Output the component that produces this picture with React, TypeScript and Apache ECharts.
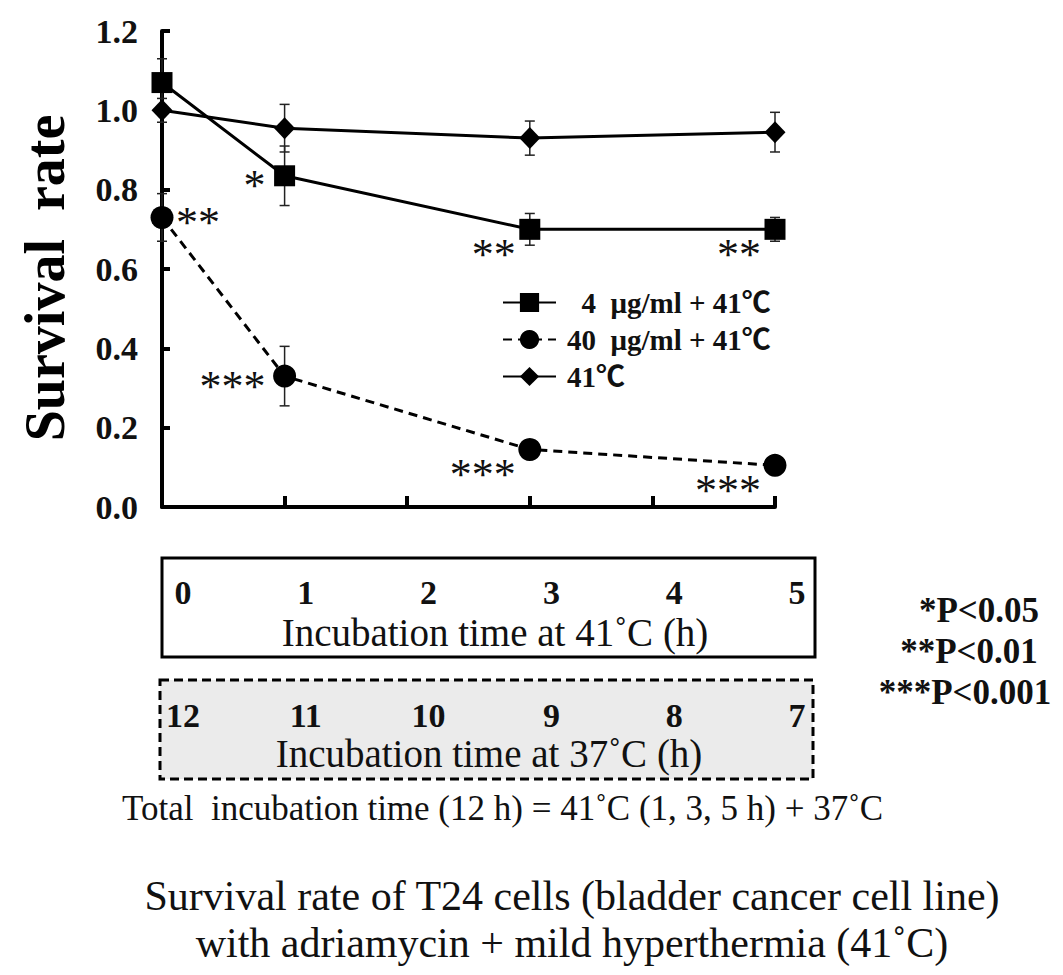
import React, { useEffect, useRef } from 'react';
import * as echarts from 'echarts';

// hours at 41°C where survival was measured
const timePoints = [0, 1, 3, 5];

// survival rate (mean) and error (SD) per group
const rate4 = [1.07, 0.835, 0.7, 0.7];
const err4 = [0.06, 0.075, 0.04, 0.03];
const rate40 = [0.73, 0.33, 0.145, 0.105];
const err40 = [0.06, 0.075, 0.01, 0.01];
const rate41 = [1.0, 0.955, 0.93, 0.945];
const err41 = [0.03, 0.06, 0.043, 0.05];

// significance marks per point
const sig4 = ['', '*', '**', '**'];
const sigPlace4 = ['', 'left', 'lowerLeft', 'lowerLeft'];
const sig40 = ['**', '***', '***', '***'];
const sigPlace40 = ['right', 'left', 'lowerLeft', 'lowerLeft'];

// tick labels of the two time boxes
const hoursAt41 = ['0', '1', '2', '3', '4', '5'];
const hoursAt37 = ['12', '11', '10', '9', '8', '7'];

const seriesNames = ['\u20074  μg/ml + 41℃', '40  μg/ml + 41℃', '41℃'];
const pValues = ['*P<0.05', '**P<0.01', '***P<0.001'];

const SERIF = "'Liberation Serif', 'Times New Roman', 'Noto Sans CJK JP', serif";

const placeOffset: Record<string, [number, number, string]> = {
  left: [-19, 0, 'right'],
  right: [14, -5, 'left'],
  lowerLeft: [-14, 15, 'right'],
};

const App: React.FC = () => {
  const chartRef = useRef<HTMLDivElement>(null);

  useEffect(() => {
    document.body.style.margin = '0';
    if (!chartRef.current) return;
    const chart = echarts.init(chartRef.current, undefined, { renderer: 'svg' });

    const pts = (vals: number[]) => timePoints.map((t, i) => [t, vals[i]]);
    const errData = (vals: number[], errs: number[]) => timePoints.map((t, i) => [t, vals[i], errs[i]]);
    const sigData = (vals: number[], marks: string[], places: string[]) =>
      timePoints.map((t, i) => [t, vals[i], marks[i], places[i]]).filter(d => d[2] !== '');

    const errorBars = (data: number[][]) => ({
      type: 'custom',
      data,
      z: 1,
      silent: true,
      renderItem: (params: any, api: any) => {
        const x = api.value(0);
        const m = api.value(1);
        const e = api.value(2);
        const top = api.coord([x, m + e]);
        const bot = api.coord([x, m - e]);
        const hw = 5;
        const st = { stroke: '#222', lineWidth: 1.5 };
        return {
          type: 'group',
          children: [
            { type: 'line', shape: { x1: top[0], y1: top[1], x2: bot[0], y2: bot[1] }, style: st },
            { type: 'line', shape: { x1: top[0] - hw, y1: top[1], x2: top[0] + hw, y2: top[1] }, style: st },
            { type: 'line', shape: { x1: bot[0] - hw, y1: bot[1], x2: bot[0] + hw, y2: bot[1] }, style: st },
          ],
        };
      },
    });

    const sigMarks = (data: any[]) => ({
      type: 'custom',
      data,
      z: 5,
      silent: true,
      renderItem: (params: any, api: any) => {
        const p = api.coord([api.value(0), api.value(1)]);
        const off = placeOffset[api.value(3)];
        return {
          type: 'text',
          x: p[0] + off[0],
          y: p[1] + off[1] + 10,
          style: {
            text: api.value(2),
            fontSize: 44,
            fontFamily: SERIF,
            fill: '#111',
            align: off[2],
            verticalAlign: 'middle',
          },
        };
      },
    });

    const boxNumberAxis = (gridIndex: number, labels: string[]) => ({
      type: 'category',
      gridIndex,
      data: labels,
      boundaryGap: false,
      axisLine: { show: false },
      axisTick: { show: false },
      splitLine: { show: false },
      axisLabel: {
        interval: 0,
        margin: 0,
        verticalAlign: 'middle',
        fontFamily: SERIF,
        fontWeight: 'bold',
        fontSize: 34,
        color: '#111',
      },
    });

    const boxGrid = (top: number) => ({ left: 183, right: 266, top, height: 1, outerBoundsMode: 'none' });
    const hiddenY = (gridIndex: number) => ({ type: 'value', gridIndex, show: false });

    const option: any = {
      animation: false,
      backgroundColor: '#fff',
      grid: [
        { left: 162, top: 31, width: 613, height: 476, outerBoundsMode: 'none', containLabel: false },
        boxGrid(591),
        boxGrid(714),
      ],
      xAxis: [
        {
          type: 'value',
          min: 0,
          max: 5,
          interval: 1,
          axisLine: { show: true, onZero: false, lineStyle: { color: '#000', width: 4 } },
          axisTick: { show: true, inside: true, length: 11, lineStyle: { color: '#000', width: 4 } },
          axisLabel: { show: false },
          splitLine: { show: false },
        },
        boxNumberAxis(1, hoursAt41),
        boxNumberAxis(2, hoursAt37),
      ],
      yAxis: [
        {
          type: 'value',
          min: 0,
          max: 1.2,
          interval: 0.2,
          axisLine: { show: true, lineStyle: { color: '#000', width: 4 } },
          axisTick: { show: true, inside: true, length: 8, lineStyle: { color: '#000', width: 4 } },
          axisLabel: {
            margin: 24,
            formatter: (v: number) => v.toFixed(1),
            fontFamily: SERIF,
            fontWeight: 'bold',
            fontSize: 34,
            color: '#111',
          },
          splitLine: { show: false },
        },
        hiddenY(1),
        hiddenY(2),
      ],
      legend: {
        orient: 'vertical',
        left: 497,
        top: 283,
        itemWidth: 53,
        itemHeight: 24,
        itemGap: 8,
        data: seriesNames,
        textStyle: { fontFamily: SERIF, fontWeight: 'bold', fontSize: 29, color: '#111', padding: [0, 0, 0, 6] },
      },
      series: [
        {
          name: seriesNames[0],
          type: 'line',
          data: pts(rate4),
          symbol: 'rect',
          symbolSize: 21,
          z: 3,
          itemStyle: { color: '#000' },
          lineStyle: { color: '#000', width: 3 },
        },
        {
          name: seriesNames[1],
          type: 'line',
          data: pts(rate40),
          symbol: 'circle',
          symbolSize: 23,
          z: 3,
          itemStyle: { color: '#000' },
          lineStyle: { color: '#000', width: 3, type: [9, 6] },
        },
        {
          name: seriesNames[2],
          type: 'line',
          data: pts(rate41),
          symbol: 'diamond',
          symbolSize: [21, 22],
          z: 3,
          itemStyle: { color: '#000' },
          lineStyle: { color: '#000', width: 3 },
        },
        errorBars(errData(rate4, err4)),
        errorBars(errData(rate40, err40)),
        errorBars(errData(rate41, err41)),
        sigMarks(sigData(rate4, sig4, sigPlace4)),
        sigMarks(sigData(rate40, sig40, sigPlace40)),
      ],
      graphic: [
        {
          type: 'text',
          x: 45,
          y: 278,
          rotation: Math.PI / 2,
          style: { text: 'Survival  rate', fontFamily: SERIF, fontWeight: 'bold', fontSize: 56, fill: '#000', align: 'center', verticalAlign: 'middle' },
        },
        {
          type: 'rect',
          z: -1,
          shape: { x: 162, y: 558, width: 653, height: 99 },
          style: { fill: '#fff', stroke: '#000', lineWidth: 3 },
        },
        {
          type: 'rect',
          z: -1,
          shape: { x: 160, y: 680, width: 653, height: 99 },
          style: { fill: '#ebebeb', stroke: '#000', lineWidth: 3, lineDash: [9, 5] },
        },
        {
          type: 'text',
          x: 495,
          y: 632,
          style: { text: 'Incubation time at 41˚C (h)', fontFamily: SERIF, fontSize: 39, fill: '#111', align: 'center', verticalAlign: 'middle' },
        },
        {
          type: 'text',
          x: 489,
          y: 753,
          style: { text: 'Incubation time at 37˚C (h)', fontFamily: SERIF, fontSize: 39, fill: '#111', align: 'center', verticalAlign: 'middle' },
        },
        {
          type: 'text',
          x: 122,
          y: 808,
          style: { text: 'Total  incubation time (12 h) = 41˚C (1, 3, 5 h) + 37˚C', fontFamily: SERIF, fontSize: 35, fill: '#111', align: 'left', verticalAlign: 'middle' },
        },
        ...pValues.map((t, i) => ({
          type: 'text',
          x: [979, 969, 965][i],
          y: 610 + i * 41,
          style: { text: t, fontFamily: SERIF, fontWeight: 'bold', fontSize: 35, fill: '#111', align: 'center', verticalAlign: 'middle' },
        })),
        {
          type: 'text',
          x: 572,
          y: 896,
          style: { text: 'Survival rate of T24 cells (bladder cancer cell line)', fontFamily: SERIF, fontSize: 42, fill: '#111', align: 'center', verticalAlign: 'middle' },
        },
        {
          type: 'text',
          x: 572,
          y: 943,
          style: { text: 'with adriamycin + mild hyperthermia (41˚C)', fontFamily: SERIF, fontSize: 42, fill: '#111', align: 'center', verticalAlign: 'middle' },
        },
      ],
    };

    chart.setOption(option);
    return () => chart.dispose();
  }, []);

  return <div ref={chartRef} style={{ width: 1063, height: 975 }} />;
};

export default App;
